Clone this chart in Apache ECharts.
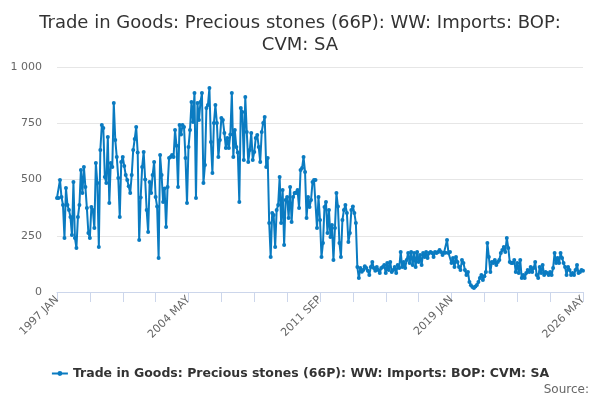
<!DOCTYPE html>
<html>
<head>
<meta charset="utf-8">
<script src="https://cdn.jsdelivr.net/npm/echarts@6/dist/echarts.min.js"></script>
<style>
html,body{margin:0;padding:0;background:#fff;}
#chart{width:600px;height:400px;}
</style>
</head>
<body>
<div id="chart"></div>
<script>
var seriesName = 'Trade in Goods: Precious stones (66P): WW: Imports: BOP: CVM: SA';
var monthNames = ['JAN','FEB','MAR','APR','MAY','JUN','JUL','AUG','SEP','OCT','NOV','DEC'];
var y1997 = [418,418,498,422,387,240,462,387,364,333,253,489];
var y1998 = [240,196,333,387,542,440,556,467,373,262,240,378];
var y1999 = [364,284,573,484,200,631,742,729,511,484,689,396];
var y2000 = [573,556,840,676,600,507,333,578,600,560,520,498];
var y2001 = [470,440,520,631,680,733,620,231,420,556,622,500];
var y2002 = [364,267,489,440,520,578,422,380,151,609,520,400];
var y2003 = [460,289,467,596,600,609,600,720,650,467,742,700];
var y2004 = [742,733,596,396,644,720,844,756,884,418,840,764];
var y2005 = [844,884,484,564,818,831,907,667,529,751,831,751];
var y2006 = [600,676,773,764,707,640,684,640,700,884,600,720];
var y2007 = [644,620,400,818,800,587,867,711,578,631,707,587];
var y2008 = [622,684,698,644,578,711,751,778,556,596,307,156];
var y2009 = [351,342,200,364,387,511,307,453,209,409,422,329];
var y2010 = [467,311,422,440,440,453,373,542,551,600,533,329];
var y2011 = [422,378,409,489,498,498,284,422,320,156,218,378];
var y2012 = [400,262,364,244,298,142,284,440,380,218,156,320];
var y2013 = [364,387,351,222,262,364,380,351,307,111,62,107];
var y2014 = [90,98,115,107,95,76,111,133,107,95,111,98];
var y2015 = [84,107,111,120,84,129,98,133,89,98,111,84];
var y2016 = [120,107,178,111,133,107,142,173,129,178,120,173];
var y2017 = [111,178,133,164,120,173,156,178,151,173,178,173];
var y2018 = [156,178,173,178,187,178,165,175,175,231,173,178];
var y2019 = [129,151,111,156,133,111,98,142,129,98,76,89];
var y2020 = [44,30,22,18,25,31,44,62,76,53,70,89];
var y2021 = [218,156,89,133,129,142,120,133,142,173,187,200];
var y2022 = [178,240,196,133,129,129,142,89,129,84,142,62];
var y2023 = [76,62,84,98,89,111,89,107,133,76,62,111];
var y2024 = [84,120,76,89,84,76,89,76,107,173,129,151];
var y2025 = [129,173,151,129,111,76,111,98,76,84,76,98];
var y2026 = [120,84,89,98,95];
var yearlyValues = [y1997,y1998,y1999,y2000,y2001,y2002,y2003,y2004,y2005,y2006,y2007,y2008,y2009,y2010,y2011,y2012,y2013,y2014,y2015,y2016,y2017,y2018,y2019,y2020,y2021,y2022,y2023,y2024,y2025,y2026];
var firstYear = 1997;
var yTicks = [0,250,500,750,1000];

var categories = [];
var values = [];
yearlyValues.forEach(function(arr, i){
  arr.forEach(function(v, j){
    categories.push((firstYear + i) + ' ' + monthNames[j]);
    values.push(v);
  });
});

var chart = echarts.init(document.getElementById('chart'), null, {renderer:'canvas'});
var font = 'DejaVu Sans, sans-serif';
chart.setOption({
  animation:false,
  backgroundColor:'#ffffff',
  textStyle:{fontFamily:font},
  title:{
    text:'Trade in Goods: Precious stones (66P): WW: Imports: BOP:\nCVM: SA',
    left:'center', top:7,
    textStyle:{fontFamily:font,fontSize:18,fontWeight:'normal',color:'#333333',lineHeight:22}
  },
  grid:{left:57,right:17,top:67,bottom:108},
  legend:{
    bottom:15, left:'center',
    itemWidth:16, itemHeight:6,
    textStyle:{fontFamily:font,fontSize:12.5,fontWeight:'bold',color:'#333333'},
    data:[seriesName]
  },
  graphic:[{
    type:'text', right:11, top:384,
    style:{text:'Source:',fill:'#666666',font:'12px DejaVu Sans, sans-serif'}
  }],
  xAxis:{
    type:'category',
    data:categories,
    boundaryGap:false,
    axisLine:{lineStyle:{color:'#ccd6eb'}},
    axisTick:{interval:21,length:10,lineStyle:{color:'#ccd6eb'}},
    axisLabel:{interval:87,rotate:45,color:'#666666',fontSize:11,fontFamily:font,margin:6},
    splitLine:{show:false}
  },
  yAxis:{
    type:'value', min:yTicks[0], max:yTicks[yTicks.length-1], interval:250,
    axisLine:{show:false}, axisTick:{show:false},
    axisLabel:{color:'#666666',fontSize:11,fontFamily:font,margin:15,
      formatter:function(v){ return v >= 1000 ? String(v).replace(/(\d)(?=(\d{3})+$)/g,'$1 ') : String(v); }},
    splitLine:{lineStyle:{color:'#e6e6e6'}}
  },
  series:[{
    name:seriesName,
    type:'line',
    data:values,
    symbol:'circle',
    symbolSize:4,
    showSymbol:true,
    showAllSymbol:true,
    lineStyle:{width:2,color:'#0a7bc1'},
    itemStyle:{color:'#0a7bc1'}
  }]
});
</script>
</body>
</html>
